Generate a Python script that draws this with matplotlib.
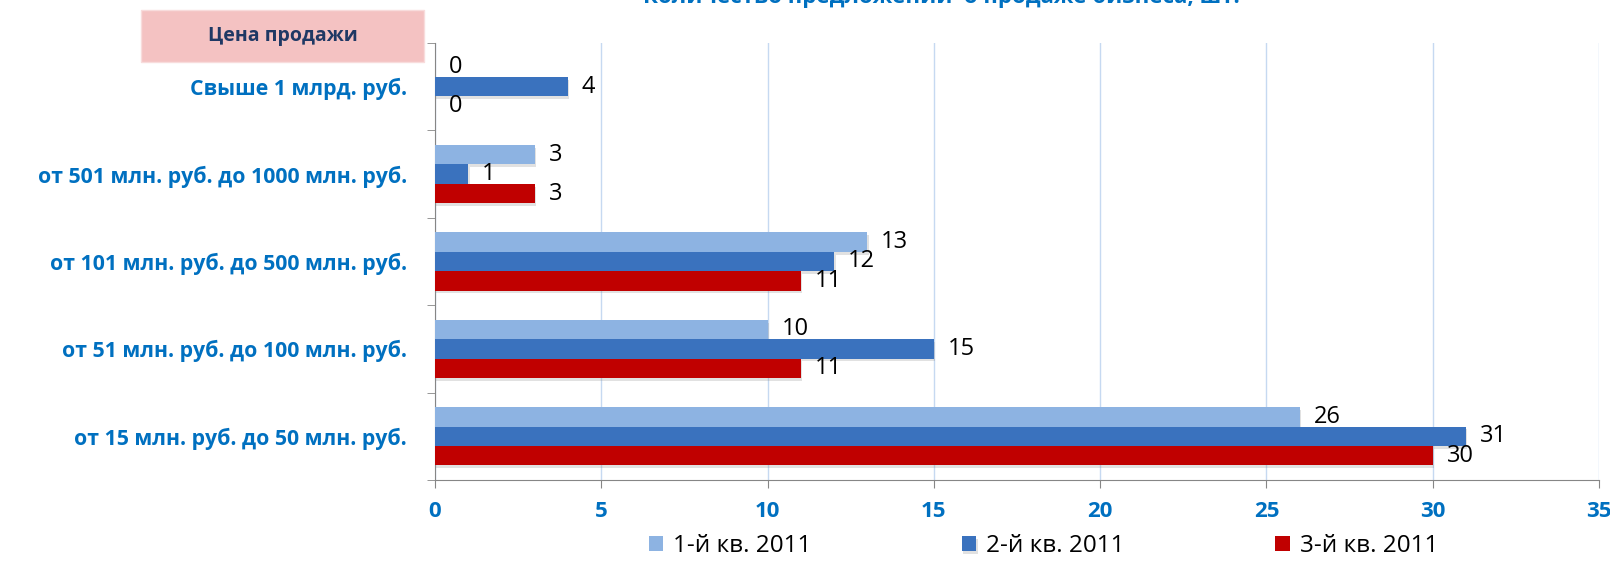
import matplotlib
matplotlib.use("Agg")
import matplotlib.pyplot as plt
import matplotlib.patheffects as pe
from matplotlib.patches import Rectangle
import numpy as np

plt.rcParams['font.family'] = ['Open Sans', 'DejaVu Sans']

# categories from top to bottom
categories = ["Свыше 1 млрд. руб.",
              "от 501 млн. руб. до 1000 млн. руб.",
              "от 101 млн. руб. до 500 млн. руб.",
              "от 51 млн. руб. до 100 млн. руб.",
              "от 15 млн. руб. до 50 млн. руб."]
series_names = ["1-й кв. 2011", "2-й кв. 2011", "3-й кв. 2011"]
q1 = [0, 3, 13, 10, 26]
q2 = [4, 1, 12, 15, 31]
q3 = [0, 3, 11, 11, 30]

colors = ["#8DB3E2", "#3A72BE", "#C00000"]
blue_text = "#0070C0"

fig = plt.figure(figsize=(16.1, 5.66), dpi=100)
ax = fig.add_axes([0.2702, 0.152, 0.723, 0.772])

y = np.arange(len(categories))
h = 0.222
shadow = [pe.SimplePatchShadow(offset=(1, -2), shadow_rgbFace="#888888", alpha=0.25),
          pe.Normal()]
for i, (vals, c, name) in enumerate(zip([q1, q2, q3], colors, series_names)):
    pos = y + (i - 1) * h
    bars = ax.barh(pos, vals, height=h, color=c, label=name, zorder=3)
    for b, v in zip(bars, vals):
        if v > 0:
            b.set_path_effects(shadow)
        ax.annotate(str(v), (v, b.get_y() + h / 2), xytext=(10, 0),
                    textcoords="offset points", va="center", ha="left",
                    fontsize=17, color="black", zorder=4)

ax.set_ylim(len(categories) - 0.5, -0.5)
ax.set_xlim(0, 35)
ax.set_xticks(np.arange(0, 36, 5))
ax.tick_params(axis="x", colors="#868686", length=6, labelcolor=blue_text,
               labelsize=16, pad=9)
for t in ax.get_xticklabels():
    t.set_fontweight("bold")

ax.set_yticks(y)
ax.set_yticklabels(categories, fontsize=15.3, fontweight="bold", color=blue_text)
ax.tick_params(axis="y", length=0, pad=20)
ax.set_yticks(np.arange(-0.5, len(categories)), minor=True)
ax.tick_params(axis="y", which="minor", length=6, color="#868686")

ax.grid(axis="x", color="#C6D9F1", linewidth=1, zorder=0)
for s in ["top", "right"]:
    ax.spines[s].set_visible(False)
for s in ["left", "bottom"]:
    ax.spines[s].set_color("#868686")

# header box
fig.patches.append(Rectangle((0.0876, 0.8905), 0.1758, 0.0919,
                             transform=fig.transFigure, fc="#F4C2C2",
                             ec="#F8DCDC", lw=1))
fig.text(0.1755, 0.9364, "Цена продажи", ha="center", va="center",
         fontsize=14, fontweight="bold", color="#1F3864")
fig.text(0.585, 1.006, "Количество предложений  о продаже бизнеса, шт.",
         ha="center", va="center", fontsize=16, fontweight="bold",
         color=blue_text)

fig.legend(loc="lower center", bbox_to_anchor=(0.648, -0.025), ncol=3,
           frameon=False, fontsize=17.5, handlelength=0.6, handleheight=0.6,
           handletextpad=0.4, columnspacing=6.2)

plt.savefig("out.png", dpi=100)
